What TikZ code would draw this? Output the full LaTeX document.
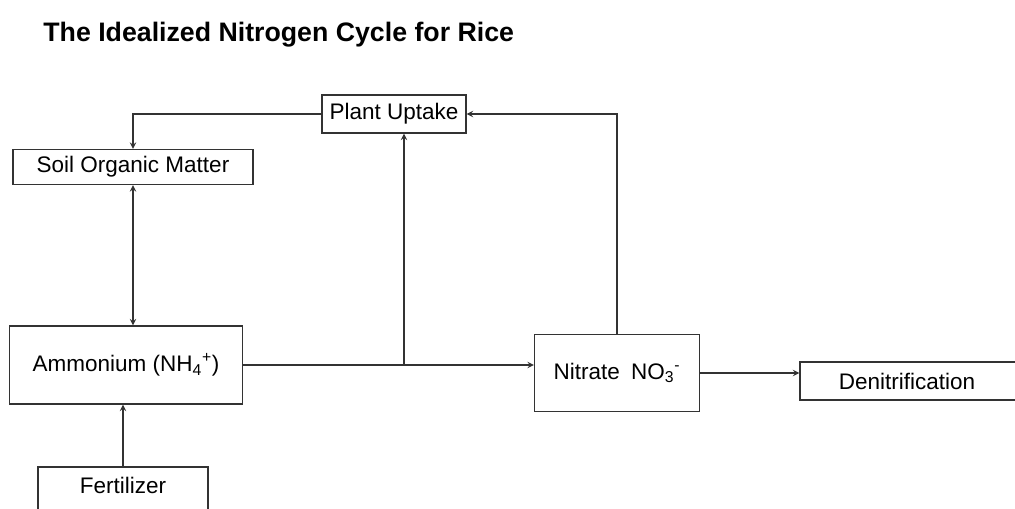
\documentclass[tikz,border=0pt]{standalone}
\usepackage{fontspec}
\setmainfont{Liberation Sans}
\begin{document}
\begin{tikzpicture}[>=stealth, x=0.025cm, y=-0.025cm, font=\fontsize{16}{18}\selectfont, draw=black!80, line width=1pt]
\useasboundingbox (0,0) rectangle (1015,508);
\node[anchor=west, font=\fontsize{19}{21}\selectfont\bfseries] (title) at (38,35) {The Idealized Nitrogen Cycle for Rice};
\node[draw, rectangle, minimum width=3.6cm, minimum height=0.95cm] (plant) at (394,114) {Plant Uptake};
\node[draw, rectangle, minimum width=6.0cm, minimum height=0.875cm] (soil) at (133,167) {Soil Organic Matter};
\node[draw, rectangle, minimum width=5.83cm, minimum height=1.95cm] (amm) at (126,365) {Ammonium (NH\textsubscript{4}\textsuperscript{+})};
\node[draw, rectangle, minimum width=4.12cm, minimum height=1.93cm] (nit) at (617,373) {Nitrate\enspace NO\textsubscript{3}\textsuperscript{-}};
\node[draw, rectangle, minimum width=5.75cm, minimum height=0.95cm] (den) at (915,381) {\hspace*{-0.4cm}Denitrification};
\node[draw, rectangle, minimum width=4.25cm, minimum height=1.25cm, text depth=0.35cm] (fert) at (123,492) {Fertilizer};
\coordinate (branch) at (404,365);
\draw[->] (plant.west) -| (soil.north);
\draw[<->] (soil.south) -- (soil.south |- amm.north);
\draw[->] (amm.east) -- (amm.east -| nit.west);
\draw[->] (branch) -- (branch |- plant.south);
\draw[->] (nit.north) |- (plant.east);
\draw[->] (nit.east) -- (nit.east -| den.west);
\draw[->] (fert.north) -- (fert.north |- amm.south);
\end{tikzpicture}
\end{document}
